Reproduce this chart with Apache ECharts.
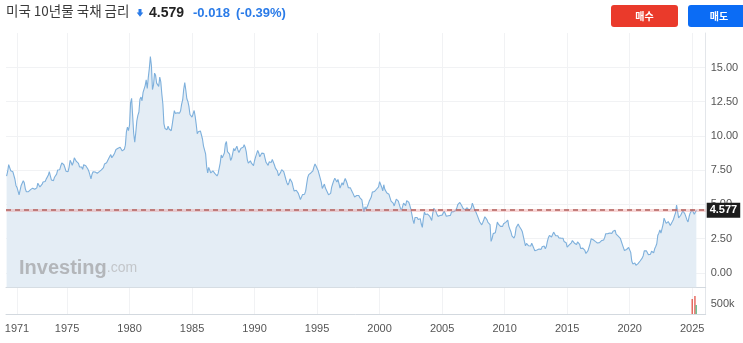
<!DOCTYPE html>
<html><head><meta charset="utf-8">
<script src="https://cdn.jsdelivr.net/npm/echarts@6/dist/echarts.min.js"></script>
<style>html,body{margin:0;padding:0;background:#fff}#c{width:743px;height:343px}</style>
</head><body><div id="c"></div>
<script>
// Monthly US 10Y yields, first value = March 1970
const startYear = 1970, startMonth = 2; // 0-based month index (March)
const y1970s = [7.07,7.39,7.91,7.84,7.46,7.53,7.39,7.33,6.84,6.39,
 6.24,6.11,5.70,5.83,6.39,6.52,6.73,6.58,6.14,5.93,5.81,5.93,
 5.95,6.08,6.07,6.19,6.13,6.11,6.11,6.21,6.55,6.48,6.28,6.36,
 6.46,6.64,6.71,6.67,6.85,6.90,7.13,7.40,7.09,6.79,6.73,6.74,
 6.99,6.96,7.21,7.51,7.58,7.54,7.81,8.04,8.04,7.90,7.68,7.43,
 7.50,7.39,7.73,8.23,8.06,7.86,8.06,8.40,8.43,8.14,8.05,8.00,
 7.74,7.79,7.73,7.56,7.90,7.86,7.83,7.77,7.59,7.41,7.29,6.87,
 7.21,7.39,7.46,7.37,7.46,7.28,7.33,7.40,7.34,7.52,7.58,7.69,
 7.96,8.03,8.04,8.15,8.35,8.46,8.64,8.41,8.42,8.64,8.81,9.01,
 9.10,9.10,9.12,9.18,9.25,8.91,8.95,9.03,9.33,10.30,10.65,10.39];
const y1980s = [10.80,12.41,12.75,11.47,10.18,9.55,10.25,11.10,11.51,11.75,12.68,12.84,
 12.57,13.19,13.12,13.68,14.10,13.47,14.28,14.94,15.80,15.15,13.39,13.72,
 14.59,14.43,13.86,13.87,13.62,14.30,13.95,13.06,12.34,10.91,10.55,10.54,
 10.46,10.72,10.51,10.40,10.38,10.85,11.38,11.85,11.65,11.54,11.69,11.83,
 11.67,11.84,12.32,12.63,13.41,13.90,13.36,12.72,12.52,12.16,11.57,11.50,
 11.38,11.51,11.86,11.43,10.85,10.16,10.31,10.33,10.37,10.24,9.78,9.26,
 9.19,8.70,7.78,7.30,7.71,7.80,7.30,7.17,7.45,7.43,7.25,7.11,
 7.08,7.25,7.25,8.02,8.61,8.40,8.45,8.76,9.42,9.60,8.86,8.99,
 8.67,8.21,8.37,8.72,9.09,8.92,9.06,9.26,8.98,8.80,8.96,9.11,
 9.09,9.17,9.36,9.18,8.86,8.28,8.02,8.11,8.19,8.01,7.87,7.84];
const y1990s = [8.21,8.47,8.59,8.95,8.76,8.48,8.47,8.75,8.89,8.72,8.39,8.08,
 8.09,7.85,8.11,8.04,8.07,8.28,8.27,7.90,7.65,7.53,7.42,7.09,
 7.03,7.34,7.54,7.48,7.39,7.26,6.84,6.59,6.42,6.59,6.87,6.77,
 6.60,6.26,5.98,5.97,6.04,5.96,5.81,5.68,5.36,5.33,5.72,5.77,
 5.75,5.97,6.48,6.97,7.18,7.10,7.30,7.24,7.46,7.74,7.96,7.81,
 7.78,7.47,7.20,7.06,6.63,6.17,6.28,6.49,6.20,6.04,5.93,5.71,
 5.65,5.81,6.27,6.51,6.74,6.91,6.87,6.64,6.83,6.53,6.20,6.30,
 6.58,6.42,6.69,6.89,6.71,6.49,6.22,6.30,6.21,6.03,5.88,5.81,
 5.54,5.57,5.65,5.64,5.65,5.50,5.46,5.34,4.81,4.45,4.83,4.65,
 4.72,5.00,5.23,5.18,5.54,5.90,5.79,5.94,5.92,6.11,6.03,6.28];
const y2000s = [6.66,6.52,6.26,5.99,6.44,6.10,6.05,5.83,5.80,5.74,5.72,5.24,
 5.16,5.10,4.89,5.14,5.39,5.28,5.24,4.97,4.73,4.57,4.65,5.09,
 5.04,4.91,5.28,5.21,5.16,4.93,4.65,4.26,3.87,3.60,4.05,4.03,
 4.05,3.90,3.81,3.96,3.57,3.33,3.98,4.45,4.27,4.29,4.30,4.27,
 4.15,4.08,3.83,4.35,4.72,4.73,4.50,4.28,4.13,4.10,4.19,4.23,
 4.22,4.17,4.50,4.34,4.14,4.00,4.18,4.26,4.20,4.46,4.54,4.47,
 4.42,4.57,4.72,4.99,5.11,5.15,5.09,4.88,4.72,4.73,4.60,4.56,
 4.76,4.72,4.56,4.69,4.75,5.10,5.00,4.67,4.52,4.53,4.15,4.10,
 3.74,3.74,3.51,3.68,3.88,4.10,4.01,3.89,3.69,3.81,3.53,2.30,
 2.52,2.87,2.82,2.93,3.29,3.72,3.56,3.59,3.40,3.39,3.40,3.59];
const y2010s = [3.73,3.69,3.73,3.85,3.42,3.20,3.01,2.70,2.65,2.54,2.76,3.29,
 3.39,3.58,3.41,3.46,3.17,3.00,3.00,2.30,1.98,2.15,2.01,1.98,
 1.97,1.97,2.17,2.05,1.80,1.62,1.53,1.68,1.72,1.75,1.65,1.72,
 1.91,1.98,1.96,1.76,1.93,2.30,2.58,2.74,2.81,2.62,2.72,2.98,
 2.86,2.71,2.72,2.71,2.56,2.60,2.54,2.42,2.53,2.30,2.33,2.21,
 1.88,1.98,2.04,1.94,2.20,2.36,2.32,2.17,2.17,2.07,2.26,2.24,
 2.09,1.78,1.89,1.81,1.81,1.64,1.42,1.56,1.63,1.76,2.14,2.49,
 2.43,2.42,2.48,2.30,2.30,2.19,2.32,2.21,2.20,2.36,2.35,2.40,
 2.58,2.86,2.84,2.87,2.98,2.91,2.89,2.89,3.05,3.15,3.12,2.83,
 2.71,2.68,2.57,2.53,2.40,2.07,2.06,1.63,1.70,1.71,1.81,1.86];
const y2020s = [1.76,1.50,0.87,0.66,0.67,0.73,0.55,0.65,0.68,0.79,0.87,0.93,
 1.08,1.26,1.61,1.64,1.62,1.52,1.32,1.28,1.37,1.58,1.56,1.47,
 1.76,1.93,2.13,2.75,2.90,3.14,2.90,2.90,3.52,4.00,3.89,3.62,
 3.53,3.75,3.66,3.46,3.57,3.75,3.90,4.17,4.38,4.95,4.50,4.02,
 4.06,4.21,4.21,4.54,4.48,4.31,4.25,3.87,3.72,4.10,4.36,4.39,
 4.63,4.45,4.28,4.28,4.58];

const yearTicks = [1971,1975,1980,1985,1990,1995,2000,2005,2010,2015,2020,2025];
const yieldTicks = [0,2.5,5,7.5,10,12.5,15];
const volumeTicks = [500000];
const lastValue = 4.577;
const titleName = '미국 10년물 국채 금리';
const titlePrice = '4.579';
const titleChange = '-0.018';
const titlePct = '(-0.39%)';
// volume bars (year, volume, direction)
const volYears = [2025.00, 2025.22, 2025.32];
const volValues = [750000, 900000, 450000];
const volDir = ['down','down','up'];

const allYields = [].concat(y1970s, y1980s, y1990s, y2000s, y2010s, y2020s);
const lineData = allYields.map((v,i)=>[startYear + (startMonth + i)/12, v]);
const volData = volYears.map((x,i)=>({value:[x, volValues[i]], itemStyle:{color: volDir[i]==='up' ? '#4fb27a' : '#e0463a'}}));

const FONT = 'Liberation Sans, Arial, sans-serif';
const xMin = 1970.12, xMax = 2026.08;
const chart = echarts.init(document.getElementById('c'), null, {renderer:'canvas'});
const gridColor = '#f1f2f4';
chart.setOption({
  animation:false,
  textStyle:{fontFamily:FONT},
  grid:[{left:6, right:37.3, top:33, height:254.3},{left:6, right:37.3, top:288, height:26}],
  xAxis:[
    {type:'value', gridIndex:0, min:xMin, max:xMax,
     axisLine:{show:true, onZero:false, lineStyle:{color:'#d3d9df'}}, axisTick:{show:false, customValues:yearTicks},
     axisLabel:{show:false, customValues:yearTicks},
     splitLine:{show:true, lineStyle:{color:gridColor}}},
    {type:'value', gridIndex:1, min:xMin, max:xMax,
     axisLine:{show:true, onZero:false, lineStyle:{color:'#d3d9df'}}, axisTick:{show:false, customValues:yearTicks},
     axisLabel:{show:true, customValues:yearTicks, color:'#555', fontSize:11, margin:9, formatter:v=>String(Math.round(v))},
     splitLine:{show:true, lineStyle:{color:gridColor}}}
  ],
  yAxis:[
    {type:'value', gridIndex:0, position:'right', min:-1.05, max:17.52,
     axisLine:{show:true, lineStyle:{color:'#e3e6ea'}}, axisTick:{show:false, customValues:yieldTicks},
     axisLabel:{customValues:yieldTicks, color:'#555', fontSize:11, margin:5, formatter:v=>v.toFixed(2)},
     splitLine:{show:true, lineStyle:{color:gridColor}}},
    {type:'value', gridIndex:1, position:'right', min:0, max:1300000,
     axisLine:{show:true, lineStyle:{color:'#e3e6ea'}}, axisTick:{show:false, customValues:volumeTicks},
     axisLabel:{customValues:volumeTicks, color:'#555', fontSize:11, margin:5, formatter:v=>Math.round(v/1000)+'k'},
     splitLine:{show:false}}
  ],
  series:[
    {type:'line', xAxisIndex:0, yAxisIndex:0, data:lineData, symbol:'none',
     lineStyle:{color:'#7eb0dc', width:1.1}, areaStyle:{color:'#e4edf5', opacity:1, origin:'start'},
     markLine:{silent:true, symbol:'none', animation:false,
       data:[
         {yAxis:lastValue, lineStyle:{color:'rgba(235,140,140,0.35)', width:3, type:'solid'}, label:{show:false}},
         {yAxis:lastValue, lineStyle:{color:'#b3625d', width:1.5, type:[5,4]},
          label:{show:true, position:'end', distance:1, formatter:String(lastValue), backgroundColor:'#1c1c1c', color:'#fff',
                 fontWeight:'bold', fontSize:11, padding:[2,3,2,3], fontFamily:FONT}}
       ]}},
    {type:'bar', xAxisIndex:1, yAxisIndex:1, data:volData, barWidth:1.2, barGap:'-100%'}
  ],
  graphic:[
    {type:'text', left:6, top:4, style:{text:titleName, font:'13.5px "Noto Sans CJK KR"', fill:'#3a3a3a'}},
    {type:'polygon', shape:{points:[[138.5,9],[141.5,9],[141.5,12.5],[143.3,12.5],[140,16.8],[136.7,12.5],[138.5,12.5]]}, style:{fill:'#2a7be8'}},
    {type:'text', left:149, top:6, style:{text:titlePrice, font:'bold 14px '+FONT, fill:'#222'}},
    {type:'text', left:193, top:7, style:{text:titleChange, font:'bold 13px '+FONT, fill:'#2a7be8'}},
    {type:'text', left:236, top:7, style:{text:titlePct, font:'bold 13px '+FONT, fill:'#2a7be8'}},
    {type:'rect', shape:{x:611, y:5, width:67, height:22, r:3}, style:{fill:'#ea3a2b'}},
    {type:'text', x:644.5, y:16, style:{text:'매수', font:'bold 10px "Noto Sans CJK KR"', fill:'#fff', align:'center', verticalAlign:'middle'}},
    {type:'rect', shape:{x:688, y:5, width:62, height:22, r:3}, style:{fill:'#0b6cf5'}},
    {type:'text', x:719, y:16, style:{text:'매도', font:'bold 10px "Noto Sans CJK KR"', fill:'#fff', align:'center', verticalAlign:'middle'}},
    {type:'text', left:19, top:258, z:10, style:{rich:{a:{font:'bold 20px '+FONT, fill:'#b3b6ba'}, b:{font:'14px '+FONT, fill:'#c3c6ca'}}, text:'{a|Investing}{b|.com}'}}
  ]
});
</script></body></html>
